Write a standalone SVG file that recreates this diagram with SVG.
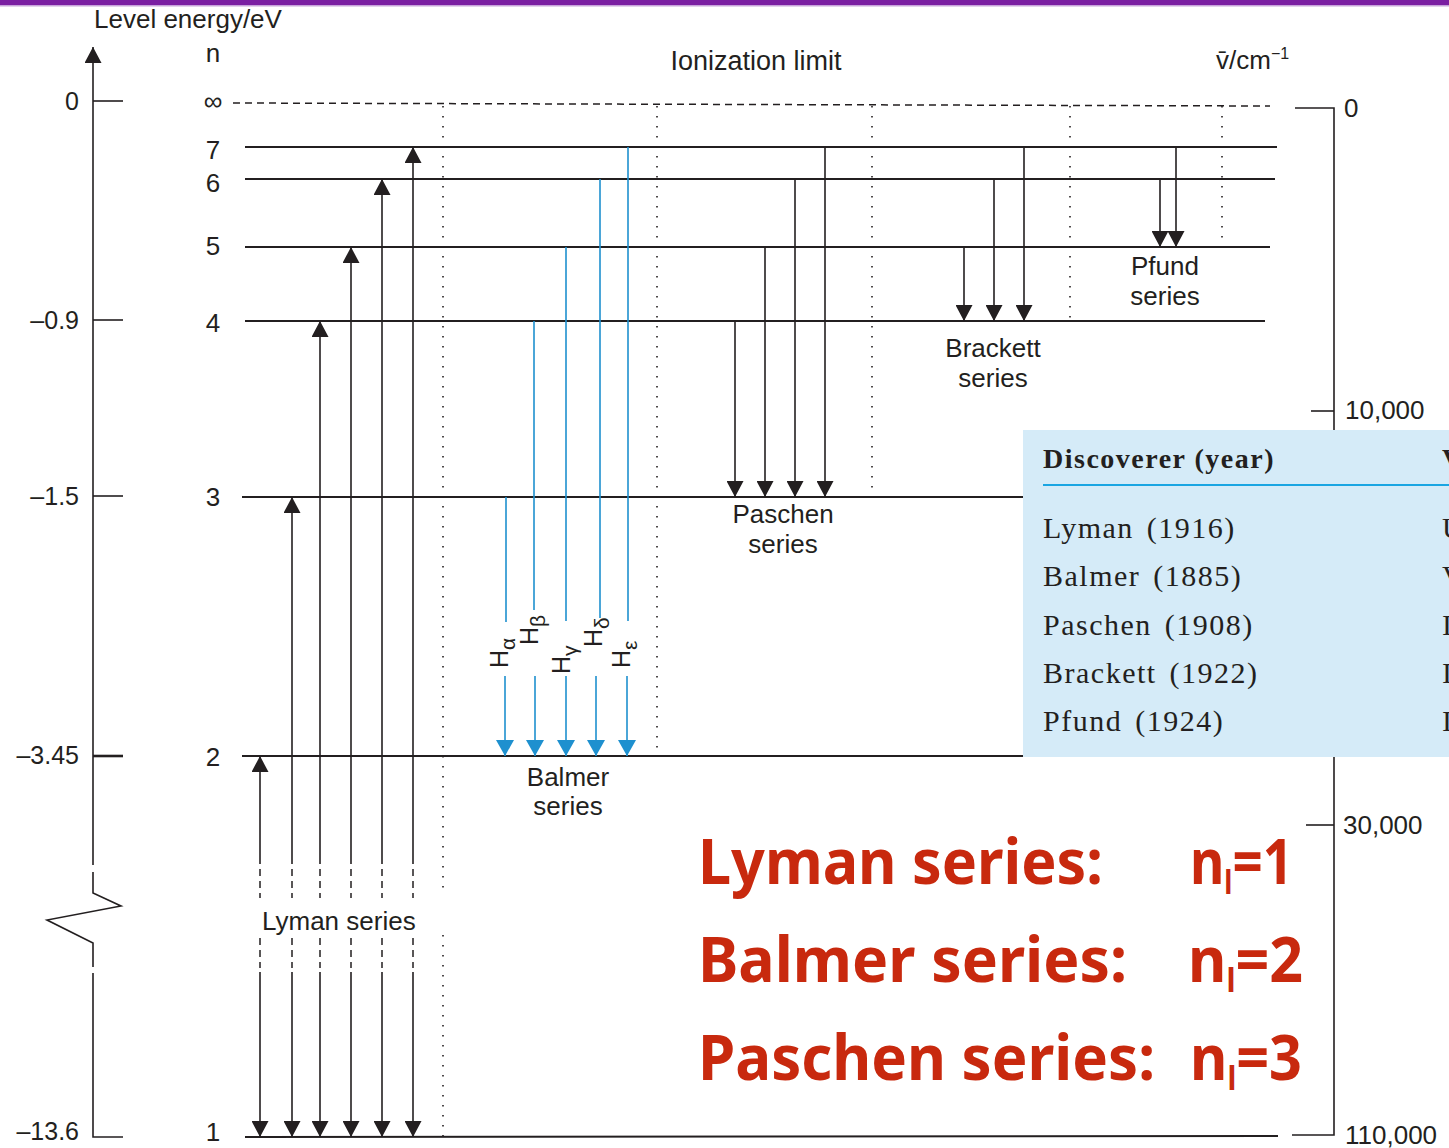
<svg xmlns="http://www.w3.org/2000/svg" width="1449" height="1148" viewBox="0 0 1449 1148">
<style>
.ln{stroke:#231f20;stroke-width:1.6;fill:none}
.lv{stroke:#231f20;stroke-width:1.8;fill:none}
.dot{stroke:#231f20;stroke-width:1.6;stroke-dasharray:1.6 8.4;fill:none}
.dash{stroke:#231f20;stroke-width:1.5;stroke-dasharray:7 5;fill:none}
.bl{stroke:#1e90cf;stroke-width:1.6;fill:none}
.t{font-family:"Liberation Sans",Arial,sans-serif;font-size:26px;fill:#231f20}
.tm{font-family:"Liberation Sans",Arial,sans-serif;font-size:26px;fill:#231f20;text-anchor:middle}
.te{font-family:"Liberation Sans",Arial,sans-serif;font-size:25px;fill:#231f20;text-anchor:end}
.g{font-family:"Liberation Sans",Arial,sans-serif;font-size:25px;fill:#231f20}
.tb{font-family:"Liberation Serif","Times New Roman",serif;font-size:30px;fill:#231f20;letter-spacing:1.5px;word-spacing:4px}
.th{font-family:"Liberation Serif","Times New Roman",serif;font-size:28px;font-weight:bold;fill:#231f20;letter-spacing:1.5px}
.red{font-family:"Noto Sans","DejaVu Sans",sans-serif;font-size:62px;font-weight:bold;fill:#c8290e}
</style>
<defs>
<marker id="ah" markerUnits="userSpaceOnUse" viewBox="0 0 16 17" refX="16" refY="8.5" markerWidth="16" markerHeight="17" orient="auto">
<path d="M0,0 L16,8.5 L0,17 z" fill="#231f20"/>
</marker>
<marker id="ahb" markerUnits="userSpaceOnUse" viewBox="0 0 16 18" refX="16" refY="9" markerWidth="16" markerHeight="18" orient="auto">
<path d="M0,0 L16,9 L0,18 z" fill="#1e90cf"/>
</marker>
</defs>
<rect x="0" y="0" width="1449" height="1148" fill="#ffffff"/>
<rect x="0" y="0" width="1449" height="5" fill="#7b1fa2"/>
<rect x="0" y="5" width="1449" height="1.5" fill="#c7a3da"/>

<g id="left-axis">
<line class="ln" x1="93" y1="865" x2="93" y2="47" marker-end="url(#ah)"/>
<path class="ln" d="M93,872 L93,893 L121,906 L47,920 L93,943 L93,967"/>
<path class="ln" d="M93,973 L93,1137 L123,1137"/>
<line class="ln" x1="93" y1="101" x2="123" y2="101"/>
<line class="ln" x1="93" y1="320" x2="123" y2="320"/>
<line class="ln" x1="93" y1="496" x2="123" y2="496"/>
<line class="ln" x1="93" y1="756" x2="123" y2="756" style="stroke-width:2.6"/>
<text class="t" x="94" y="28">Level energy/eV</text>
<text class="te" x="79" y="110">0</text>
<text class="te" x="79" y="329">–0.9</text>
<text class="te" x="79" y="505">–1.5</text>
<text class="te" x="79" y="764">–3.45</text>
<text class="te" x="79" y="1140">–13.6</text>
</g>

<g id="right-axis">
<path class="ln" d="M1295,108 L1334,108 L1334,1135 L1292,1135"/>
<line class="ln" x1="1311" y1="411" x2="1334" y2="411"/>
<line class="ln" x1="1306" y1="825" x2="1334" y2="825"/>
<text class="t" x="1216" y="69">v&#772;/cm<tspan font-size="16" dy="-10">−1</tspan></text>
<text class="t" x="1344" y="117">0</text>
<text class="t" x="1345" y="419">10,000</text>
<text class="t" x="1343" y="834">30,000</text>
<text class="t" x="1345" y="1144">110,000</text>
</g>

<g id="levels">
<line class="dash" x1="233" y1="103" x2="1270" y2="106"/>
<line class="lv" x1="245" y1="147" x2="1277" y2="147"/>
<line class="lv" x1="245" y1="179" x2="1275" y2="179"/>
<line class="lv" x1="245" y1="247" x2="1270" y2="247"/>
<line class="lv" x1="245" y1="321" x2="1265" y2="321"/>
<line class="lv" x1="242" y1="497" x2="1030" y2="497"/>
<line class="lv" x1="242" y1="756" x2="1030" y2="756"/>
<line class="lv" x1="245" y1="1137" x2="1278" y2="1136"/>
<text class="tm" x="213" y="62">n</text>
<text class="tm" x="213" y="110">∞</text>
<text class="tm" x="213" y="159">7</text>
<text class="tm" x="213" y="192">6</text>
<text class="tm" x="213" y="255">5</text>
<text class="tm" x="213" y="332">4</text>
<text class="tm" x="213" y="506">3</text>
<text class="tm" x="213" y="766">2</text>
<text class="tm" x="213" y="1141">1</text>
<text class="tm" x="756" y="70" style="font-size:27px">Ionization limit</text>
</g>

<g id="dividers">
<line class="dot" x1="443" y1="106" x2="443" y2="895"/>
<line class="dot" x1="443" y1="935" x2="443" y2="1137"/>
<line class="dot" x1="657" y1="106" x2="657" y2="756"/>
<line class="dot" x1="872" y1="106" x2="872" y2="497"/>
<line class="dot" x1="1070" y1="106" x2="1070" y2="321"/>
<line class="dot" x1="1222" y1="106" x2="1222" y2="247"/>
</g>

<g id="connectors">
<g id="lyman">
<line class="ln" x1="260" y1="864" x2="260" y2="756" marker-end="url(#ah)"/>
<line class="ln" x1="292" y1="864" x2="292" y2="497" marker-end="url(#ah)"/>
<line class="ln" x1="320" y1="864" x2="320" y2="321" marker-end="url(#ah)"/>
<line class="ln" x1="351" y1="864" x2="351" y2="247" marker-end="url(#ah)"/>
<line class="ln" x1="382" y1="864" x2="382" y2="179" marker-end="url(#ah)"/>
<line class="ln" x1="413" y1="864" x2="413" y2="147" marker-end="url(#ah)"/>
<g class="dash">
<line x1="260" y1="869" x2="260" y2="898"/><line x1="292" y1="869" x2="292" y2="898"/><line x1="320" y1="869" x2="320" y2="898"/><line x1="351" y1="869" x2="351" y2="898"/><line x1="382" y1="869" x2="382" y2="898"/><line x1="413" y1="869" x2="413" y2="898"/>
<line x1="260" y1="938" x2="260" y2="968"/><line x1="292" y1="938" x2="292" y2="968"/><line x1="320" y1="938" x2="320" y2="968"/><line x1="351" y1="938" x2="351" y2="968"/><line x1="382" y1="938" x2="382" y2="968"/><line x1="413" y1="938" x2="413" y2="968"/>
</g>
<line class="ln" x1="260" y1="972" x2="260" y2="1137" marker-end="url(#ah)"/>
<line class="ln" x1="292" y1="972" x2="292" y2="1137" marker-end="url(#ah)"/>
<line class="ln" x1="320" y1="972" x2="320" y2="1137" marker-end="url(#ah)"/>
<line class="ln" x1="351" y1="972" x2="351" y2="1137" marker-end="url(#ah)"/>
<line class="ln" x1="382" y1="972" x2="382" y2="1137" marker-end="url(#ah)"/>
<line class="ln" x1="413" y1="972" x2="413" y2="1137" marker-end="url(#ah)"/>
</g>
<g id="balmer">
<line class="bl" x1="506" y1="497" x2="506" y2="622"/>
<line class="bl" x1="534" y1="321" x2="534" y2="610"/>
<line class="bl" x1="566" y1="247" x2="566" y2="621"/>
<line class="bl" x1="600" y1="179" x2="600" y2="618"/>
<line class="bl" x1="628" y1="147" x2="628" y2="621"/>
<line class="bl" x1="505" y1="676" x2="505" y2="756" marker-end="url(#ahb)"/>
<line class="bl" x1="535" y1="676" x2="535" y2="756" marker-end="url(#ahb)"/>
<line class="bl" x1="566" y1="676" x2="566" y2="756" marker-end="url(#ahb)"/>
<line class="bl" x1="596" y1="676" x2="596" y2="756" marker-end="url(#ahb)"/>
<line class="bl" x1="627" y1="676" x2="627" y2="756" marker-end="url(#ahb)"/>
</g>
<g id="paschen">
<line class="ln" x1="735" y1="321" x2="735" y2="497" marker-end="url(#ah)"/>
<line class="ln" x1="765" y1="247" x2="765" y2="497" marker-end="url(#ah)"/>
<line class="ln" x1="795" y1="179" x2="795" y2="497" marker-end="url(#ah)"/>
<line class="ln" x1="825" y1="147" x2="825" y2="497" marker-end="url(#ah)"/>
</g>
<g id="brackett">
<line class="ln" x1="964" y1="247" x2="964" y2="321" marker-end="url(#ah)"/>
<line class="ln" x1="994" y1="179" x2="994" y2="321" marker-end="url(#ah)"/>
<line class="ln" x1="1024" y1="147" x2="1024" y2="321" marker-end="url(#ah)"/>
</g>
<g id="pfund">
<line class="ln" x1="1160" y1="179" x2="1160" y2="247" marker-end="url(#ah)"/>
<line class="ln" x1="1176" y1="147" x2="1176" y2="247" marker-end="url(#ah)"/>
</g>
</g>

<g id="series-labels">
<text class="t" x="262" y="930">Lyman series</text>
<text class="tm" x="568" y="786">Balmer</text>
<text class="tm" x="568" y="815">series</text>
<text class="tm" x="783" y="523">Paschen</text>
<text class="tm" x="783" y="553">series</text>
<text class="tm" x="993" y="357">Brackett</text>
<text class="tm" x="993" y="387">series</text>
<text class="tm" x="1165" y="275">Pfund</text>
<text class="tm" x="1165" y="305">series</text>
<text class="g" transform="translate(508,668) rotate(-90)">H<tspan font-size="21" dy="7">α</tspan></text>
<text class="g" transform="translate(538,645) rotate(-90)">H<tspan font-size="21" dy="7">β</tspan></text>
<text class="g" transform="translate(570,674) rotate(-90)">H<tspan font-size="21" dy="7">γ</tspan></text>
<text class="g" transform="translate(602,647) rotate(-90)">H<tspan font-size="21" dy="7">δ</tspan></text>
<text class="g" transform="translate(630,668) rotate(-90)">H<tspan font-size="21" dy="7">ε</tspan></text>
</g>

<g id="table">
<rect x="1023" y="430" width="426" height="327" fill="#d5ebf8"/>
<text class="th" x="1043" y="468">Discoverer (year)</text>
<text class="th" x="1442" y="468">V</text>
<line x1="1043" y1="485" x2="1449" y2="485" stroke="#1aa5e2" stroke-width="2"/>
<text class="tb" x="1043" y="538">Lyman (1916)</text>
<text class="tb" x="1043" y="586">Balmer (1885)</text>
<text class="tb" x="1043" y="635">Paschen (1908)</text>
<text class="tb" x="1043" y="683">Brackett (1922)</text>
<text class="tb" x="1043" y="731">Pfund (1924)</text>
<text class="tb" x="1442" y="538">U</text>
<text class="tb" x="1442" y="586">V</text>
<text class="tb" x="1442" y="635">I</text>
<text class="tb" x="1442" y="683">I</text>
<text class="tb" x="1442" y="731">I</text>
</g>

<g id="summary">
<text class="red" x="698" y="884" textLength="405" lengthAdjust="spacingAndGlyphs">Lyman series:</text>
<text class="red" x="1190" y="884" textLength="103" lengthAdjust="spacingAndGlyphs">n<tspan font-size="32" dy="10">l</tspan><tspan dy="-10">=1</tspan></text>
<text class="red" x="698" y="982" textLength="429" lengthAdjust="spacingAndGlyphs">Balmer series:</text>
<text class="red" x="1188" y="982" textLength="115" lengthAdjust="spacingAndGlyphs">n<tspan font-size="32" dy="10">l</tspan><tspan dy="-10">=2</tspan></text>
<text class="red" x="698" y="1080" textLength="457" lengthAdjust="spacingAndGlyphs">Paschen series:</text>
<text class="red" x="1190" y="1080" textLength="112" lengthAdjust="spacingAndGlyphs">n<tspan font-size="32" dy="10">l</tspan><tspan dy="-10">=3</tspan></text>
</g>
</svg>
